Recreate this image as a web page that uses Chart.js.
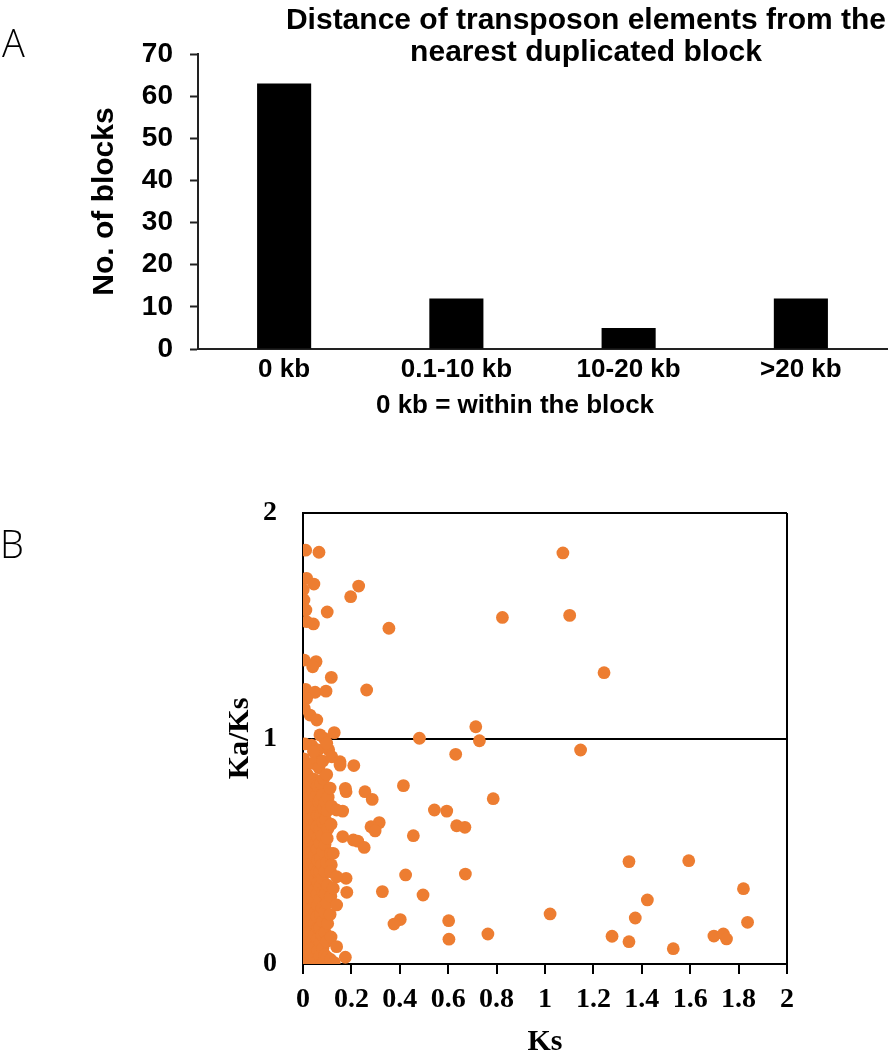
<!DOCTYPE html>
<html><head><meta charset="utf-8">
<script src="https://cdn.jsdelivr.net/npm/chart.js@4.4.0/dist/chart.umd.min.js"></script>
<style>
html,body{margin:0;padding:0;background:#fff;}
body{width:893px;height:1055px;position:relative;overflow:hidden;}
#wa{position:absolute;left:0;top:0;width:893px;height:440px;}
#wb{position:absolute;left:0;top:460px;width:893px;height:595px;}
</style></head><body>
<div id="wa"><canvas id="ca"></canvas></div>
<div id="wb"><canvas id="cb"></canvas></div>
<script>
// ---------- Panel A data ----------
const distanceCategories = ['0 kb', '0.1-10 kb', '10-20 kb', '>20 kb'];
const blockCounts = [63, 12, 5, 12];
const chartATitle = ['Distance of transposon elements from the', 'nearest duplicated block'];
const chartANote = '0 kb = within the block';
const blocksAxisTitle = 'No. of blocks';

// ---------- Panel B data ----------
const ksTickLabels = ['0', '0.2', '0.4', '0.6', '0.8', '1', '1.2', '1.4', '1.6', '1.8', '2'];
const kaksTickLabels = ['0', '1', '2'];
const ksAxisTitle = 'Ks';
const kaksAxisTitle = 'Ka/Ks';
// [Ks, Ka/Ks] pairs
const scatteredPoints = [
  [0.011,1.835],[0.066,1.826],[0.015,1.71],[0.045,1.685],[0.001,1.66],[0.004,1.614],[0.012,1.57],
  [0.015,1.518],[0.043,1.508],[0.100,1.561],[0.230,1.676],[0.197,1.629],[0.355,1.489],[0.824,1.537],
  [0.005,1.348],[0.054,1.341],[0.040,1.318],[0.117,1.271],[0.263,1.215],[0.011,1.218],[0.050,1.205],
  [0.095,1.210],[0.015,1.178],[0.005,1.134],[0.029,1.104],[0.057,1.082],[0.129,1.026],[0.070,1.016],
  [0.008,0.976],[0.098,0.979],[0.043,0.942],[0.119,0.919],[0.153,0.897],[0.210,0.880],[0.481,1.001],
  [0.714,1.052],[0.729,0.990],[0.631,0.930],[1.074,1.823],[1.102,1.546],[1.244,1.292],[1.147,0.949],
  [0.415,0.791],[0.786,0.733],[0.256,0.764],[0.286,0.730],[0.543,0.683],[0.594,0.678],[0.635,0.613],
  [0.669,0.606],[0.456,0.569],[0.315,0.627],[0.281,0.609],[0.298,0.590],[0.208,0.550],[0.226,0.545],
  [0.253,0.517],[0.164,0.565],[0.178,0.764],[0.175,0.779],[0.164,0.678],[0.139,0.683],[0.424,0.395],
  [0.671,0.399],[0.328,0.321],[0.496,0.306],[0.402,0.197],[0.376,0.177],[0.602,0.192],[0.603,0.110],
  [0.764,0.133],[0.178,0.380],[0.181,0.318],[0.114,0.409],[0.139,0.387],[0.125,0.336],[0.139,0.262],
  [0.175,0.030],[0.129,0.006],[0.139,0.077],[0.125,0.491],[0.100,0.557],[0.153,0.882],
  [1.021,0.222],[1.347,0.454],[1.594,0.458],[1.820,0.334],[1.423,0.284],[1.373,0.204],[1.277,0.123],
  [1.347,0.099],[1.530,0.068],[1.698,0.124],[1.737,0.133],[1.750,0.111],[1.837,0.185]
];
// dense cluster near Ks ~ 0
const clusterPoints = [
  [0.004,0.00],[0.006,0.05],[0.003,0.09],[0.007,0.14],[0.004,0.19],[0.006,0.24],[0.003,0.29],[0.005,0.34],
  [0.004,0.39],[0.006,0.44],[0.003,0.49],[0.005,0.54],[0.004,0.59],[0.006,0.64],[0.003,0.69],[0.005,0.74],
  [0.004,0.80],[0.006,0.86],[0.003,0.91],
  [0.012,0.025],[0.013,0.075],[0.011,0.115],[0.012,0.165],[0.014,0.215],[0.012,0.265],[0.011,0.315],
  [0.013,0.365],[0.012,0.415],[0.014,0.465],[0.011,0.515],[0.013,0.565],[0.012,0.615],[0.014,0.665],
  [0.012,0.715],[0.011,0.765],[0.013,0.825],[0.012,0.885],
  [0.021,0.02],[0.019,0.07],[0.022,0.12],[0.020,0.17],[0.021,0.22],[0.019,0.27],[0.022,0.32],[0.020,0.37],
  [0.021,0.42],[0.019,0.47],[0.022,0.52],[0.020,0.57],[0.021,0.62],[0.019,0.67],[0.022,0.72],[0.020,0.78],
  [0.018,0.84],
  [0.030,0.045],[0.031,0.095],[0.029,0.145],[0.030,0.195],[0.032,0.245],[0.029,0.295],[0.031,0.345],
  [0.030,0.395],[0.029,0.445],[0.031,0.495],[0.030,0.545],[0.032,0.595],[0.029,0.645],[0.031,0.695],
  [0.030,0.745],[0.028,0.805],
  [0.038,0.00],[0.041,0.05],[0.039,0.10],[0.042,0.15],[0.038,0.20],[0.041,0.25],[0.039,0.30],[0.042,0.35],
  [0.038,0.40],[0.041,0.45],[0.039,0.50],[0.042,0.55],[0.038,0.60],[0.041,0.65],[0.039,0.70],[0.042,0.76],
  [0.045,0.82],[0.040,0.89],[0.036,0.97],
  [0.049,0.03],[0.051,0.08],[0.050,0.13],[0.048,0.18],[0.051,0.23],[0.050,0.28],[0.049,0.33],[0.052,0.38],
  [0.050,0.43],[0.048,0.48],[0.051,0.53],[0.050,0.58],[0.049,0.63],[0.052,0.68],[0.050,0.74],[0.053,0.80],
  [0.055,0.91],
  [0.058,0.01],[0.061,0.06],[0.059,0.11],[0.062,0.16],[0.058,0.21],[0.061,0.26],[0.059,0.31],[0.062,0.36],
  [0.058,0.41],[0.061,0.46],[0.059,0.51],[0.062,0.56],[0.058,0.61],[0.061,0.66],[0.064,0.72],[0.060,0.79],
  [0.066,0.87],[0.063,0.95],
  [0.070,0.035],[0.071,0.095],[0.069,0.16],[0.072,0.22],[0.070,0.285],[0.071,0.345],[0.069,0.41],
  [0.072,0.47],[0.070,0.535],[0.071,0.60],[0.073,0.66],[0.071,0.73],[0.074,0.80],
  [0.079,0.00],[0.082,0.07],[0.078,0.13],[0.081,0.19],[0.079,0.25],[0.083,0.32],[0.080,0.38],[0.078,0.44],
  [0.082,0.50],[0.079,0.57],[0.081,0.63],[0.084,0.69],[0.080,0.75],[0.085,0.82],[0.082,0.90],[0.088,1.00],
  [0.090,0.04],[0.091,0.14],[0.089,0.23],[0.092,0.31],[0.090,0.41],[0.091,0.53],[0.093,0.64],[0.092,0.72],
  [0.100,0.03],[0.098,0.10],[0.102,0.18],[0.099,0.27],[0.101,0.35],[0.097,0.45],[0.103,0.60],[0.100,0.68],
  [0.104,0.74],[0.098,0.84],[0.106,0.95],
  [0.114,0.02],[0.116,0.12],[0.112,0.22],[0.115,0.30],[0.117,0.44],[0.113,0.49],[0.116,0.62],[0.118,0.70],
  [0.112,0.78]
];

const orange = '#ED7D31';

// ---------- Panel A ----------
const panelAText = {
  id: 'panelAText',
  afterDraw(chart) {
    const ctx = chart.ctx;
    ctx.save();
    ctx.fillStyle = '#000';
    ctx.textAlign = 'center';
    ctx.textBaseline = 'middle';
    ctx.font = 'bold 30px "Liberation Sans", Arial, sans-serif';
    ctx.fillText(chartATitle[0], 586, 21);
    ctx.fillText(chartATitle[1], 586, 53);
    ctx.font = 'bold 26px "Liberation Sans", Arial, sans-serif';
    ctx.fillText(chartANote, 515, 406);
    ctx.font = '300 38px "Open Sans", "Noto Sans", sans-serif';
    ctx.textAlign = 'left';
    ctx.fillText('A', 2, 46);
    ctx.restore();
  }
};

new Chart(document.getElementById('ca'), {
  type: 'bar',
  data: {
    labels: distanceCategories,
    datasets: [{
      data: blockCounts,
      backgroundColor: '#000',
      borderWidth: 0,
      barPercentage: 0.314,
      categoryPercentage: 1.0
    }]
  },
  options: {
    responsive: true,
    maintainAspectRatio: false,
    animation: false,
    events: [],
    layout: { padding: { top: 54, right: 6, left: 0, bottom: 0 } },
    plugins: { legend: { display: false }, tooltip: { enabled: false }, title: { display: false } },
    scales: {
      x: {
        grid: { display: false, drawTicks: false },
        border: { display: true, color: '#222', width: 2 },
        ticks: {
          color: '#000', padding: 5,
          font: { family: '"Liberation Sans", Arial, sans-serif', size: 26, weight: 'bold' }
        },
        afterFit(scale) { scale.height = 91; }
      },
      y: {
        min: 0, max: 70,
        ticks: {
          stepSize: 10, color: '#000', padding: 17,
          font: { family: '"Liberation Sans", Arial, sans-serif', size: 28, weight: 'bold' }
        },
        grid: { drawOnChartArea: false, drawTicks: true, tickLength: 8, tickColor: '#222', tickWidth: 2 },
        border: { display: true, color: '#222', width: 2 },
        title: {
          display: true, text: blocksAxisTitle, color: '#000',
          font: { family: '"Liberation Sans", Arial, sans-serif', size: 30, weight: 'bold', lineHeight: 1.2 },
          padding: { top: 87, bottom: 0 }
        },
        afterFit(scale) { scale.width = 198; }
      }
    }
  },
  plugins: [panelAText]
});

// ---------- Panel B ----------
const panelBText = {
  id: 'panelBText',
  afterDraw(chart) {
    const ctx = chart.ctx;
    ctx.save();
    ctx.fillStyle = '#000';
    ctx.textAlign = 'left';
    ctx.textBaseline = 'middle';
    ctx.font = '300 38px "Open Sans", "Noto Sans", sans-serif';
    ctx.fillText('B', 0, 87);
    ctx.restore();
  }
};

const serif = '"Liberation Serif", "Times New Roman", serif';
new Chart(document.getElementById('cb'), {
  type: 'scatter',
  data: {
    datasets: [{
      data: clusterPoints.concat(scatteredPoints).map(p => ({ x: p[0], y: p[1] })),
      backgroundColor: orange,
      borderColor: orange,
      borderWidth: 0,
      pointRadius: 6.4,
      pointHoverRadius: 6.4
    }]
  },
  options: {
    responsive: true,
    maintainAspectRatio: false,
    animation: false,
    events: [],
    layout: { padding: { top: 53, right: 106, left: 0, bottom: 0 } },
    plugins: { legend: { display: false }, tooltip: { enabled: false } },
    scales: {
      x: {
        type: 'linear', min: 0, max: 2,
        ticks: {
          stepSize: 0.2, color: '#000', padding: 9,
          font: { family: serif, size: 28, weight: 'bold' },
          callback: (v, i) => ksTickLabels[i]
        },
        grid: {
          color: ctx => (ctx.tick && Math.abs(ctx.tick.value - 2) < 1e-6) ? '#000' : 'rgba(0,0,0,0)',
          lineWidth: 2, drawTicks: true, tickLength: 10, tickColor: '#000', tickWidth: 2
        },
        border: { display: true, color: '#000', width: 2 },
        title: {
          display: true, text: ksAxisTitle, color: '#000',
          font: { family: serif, size: 30, weight: 'bold', lineHeight: 0.8 },
          padding: { top: 0, bottom: 1 }
        },
        afterFit(scale) { scale.height = 91; }
      },
      y: {
        type: 'linear', min: 0, max: 2,
        ticks: {
          stepSize: 1, color: '#000', padding: 26,
          font: { family: serif, size: 28, weight: 'bold' },
          callback: (v, i) => kaksTickLabels[i]
        },
        grid: {
          color: ctx => (ctx.tick && ctx.tick.value > 0.5) ? '#000' : 'rgba(0,0,0,0)',
          lineWidth: 2, drawTicks: false
        },
        border: { display: true, color: '#000', width: 2 },
        title: {
          display: true, text: kaksAxisTitle, color: '#000',
          font: { family: serif, size: 30, weight: 'bold', lineHeight: 1.2 },
          padding: { top: 222, bottom: 0 }
        },
        afterFit(scale) { scale.width = 303; }
      }
    }
  },
  plugins: [panelBText]
});
</script>
</body></html>
